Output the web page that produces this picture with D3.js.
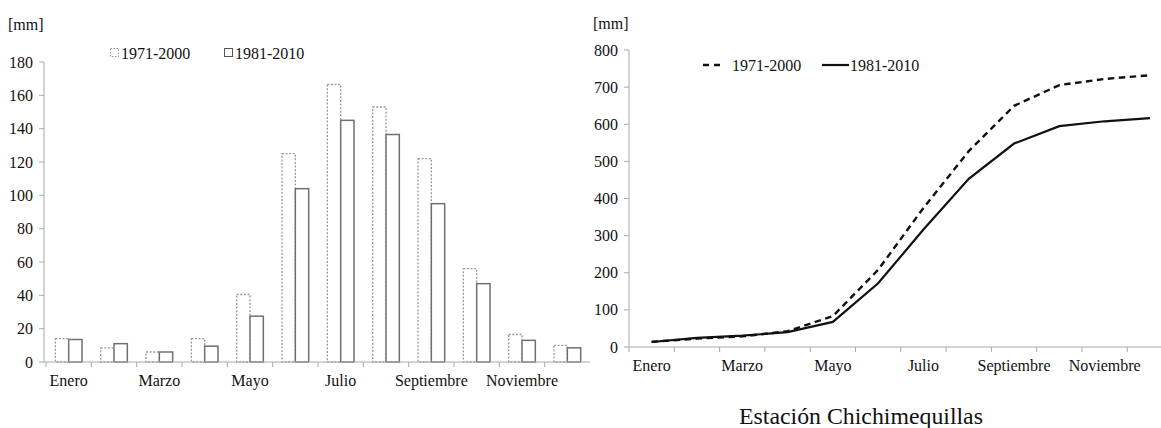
<!DOCTYPE html>
<html>
<head>
<meta charset="utf-8">
<script src="https://cdn.jsdelivr.net/npm/d3@7"></script>
<style>
  body { margin: 0; background: white; }
</style>
</head>
<body>
<div id="viz"></div>
<script>
let w = 1161;
let h = 428;

// data
let months = ["Enero", "Febrero", "Marzo", "Abril", "Mayo", "Junio", "Julio",
  "Agosto", "Septiembre", "Octubre", "Noviembre", "Diciembre"];
let series = ["1971-2000", "1981-2010"];
let monthly7100 = [14, 8.5, 6, 14, 40.5, 125, 166.5, 153, 122, 56, 16.5, 10];
let monthly8110 = [13.5, 11, 6, 9.5, 27.5, 104, 145, 136.5, 95, 47, 13, 8.5];
let cumul7100 = [14, 22.5, 28.5, 42.5, 83, 208, 374.5, 527.5, 649.5, 705.5, 722, 732];
let cumul8110 = [13.5, 24.5, 30.5, 40, 67.5, 171.5, 316.5, 453, 548, 595, 608, 616.5];
let barTicks = [0, 20, 40, 60, 80, 100, 120, 140, 160, 180];
let lineTicks = [0, 100, 200, 300, 400, 500, 600, 700, 800];
let shownMonths = ["Enero", "Marzo", "Mayo", "Julio", "Septiembre", "Noviembre"];

let fontFam = "'Liberation Serif'";

let viz = d3.select("#viz")
  .append("svg")
  .attr("width", w)
  .attr("height", h)
  .attr("viewBox", "0 0 " + w + " " + h);

let axisColor = "#aaa";

function addText(g, x, y, size, txt, anchor) {
  return g.append("text")
    .attr("x", x)
    .attr("y", y)
    .attr("font-family", fontFam)
    .attr("font-size", size)
    .attr("fill", "#111")
    .attr("text-anchor", anchor || "start")
    .text(txt);
}

function drawAxes(g, x, y, ticks, x0, x1) {
  let y0 = y.range()[0];
  // y axis
  g.append("line")
    .attr("x1", x0).attr("x2", x0)
    .attr("y1", y.range()[1]).attr("y2", y0)
    .attr("stroke", axisColor);
  g.selectAll(".ytick").data(ticks).enter()
    .append("line")
    .attr("x1", x0 - 5).attr("x2", x0)
    .attr("y1", d => y(d)).attr("y2", d => y(d))
    .attr("stroke", axisColor);
  g.selectAll(".ylab").data(ticks).enter()
    .append("text")
    .attr("x", x0 - 11)
    .attr("y", d => y(d) + 5.5)
    .attr("text-anchor", "end")
    .attr("font-family", fontFam)
    .attr("font-size", 16)
    .attr("fill", "#111")
    .text(d => d);
  // x axis
  g.append("line")
    .attr("x1", x0).attr("x2", x1)
    .attr("y1", y0).attr("y2", y0)
    .attr("stroke", axisColor);
  g.selectAll(".xtick").data(months).enter()
    .append("line")
    .attr("x1", d => x(d)).attr("x2", d => x(d))
    .attr("y1", y0).attr("y2", y0 + 5)
    .attr("stroke", axisColor);
  g.selectAll(".xlab").data(shownMonths).enter()
    .append("text")
    .attr("x", d => x(d) + x.bandwidth() / 2)
    .attr("y", y0 + 24)
    .attr("text-anchor", "middle")
    .attr("font-family", fontFam)
    .attr("font-size", 16)
    .attr("fill", "#111")
    .text(d => d);
}

// ---------------- left: monthly bars
let left = viz.append("g");
let xL = d3.scaleBand().domain(months).range([46, 590]);
let yL = d3.scaleLinear().domain([0, 180]).range([362, 62]);
let xSub = d3.scaleBand().domain(series).range([0, xL.bandwidth()]).paddingOuter(0.7);

addText(left, 8, 30, 16, "[mm]");

let barData = [];
months.forEach((m, i) => {
  barData.push({ m: m, s: series[0], v: monthly7100[i] });
  barData.push({ m: m, s: series[1], v: monthly8110[i] });
});

left.selectAll(".bar").data(barData).enter()
  .append("rect")
  .attr("class", "bar")
  .attr("x", d => xL(d.m) + xSub(d.s))
  .attr("y", d => yL(d.v))
  .attr("width", xSub.bandwidth())
  .attr("height", d => yL(0) - yL(d.v))
  .attr("fill", "white")
  .attr("stroke", d => d.s === series[0] ? "#999" : "#707070")
  .attr("stroke-width", d => d.s === series[0] ? 1.3 : 1.5)
  .attr("stroke-dasharray", d => d.s === series[0] ? "2,1.6" : null);

drawAxes(left, xL, yL, barTicks, 44, 590);

// legend left
let legL = left.append("g");
legL.append("rect").attr("x", 110.5).attr("y", 48.5).attr("width", 8).attr("height", 8)
  .attr("fill", "white").attr("stroke", "#999").attr("stroke-dasharray", "1.5,1.5");
addText(legL, 121, 58.5, 16, series[0]);
legL.append("rect").attr("x", 224.5).attr("y", 48.5).attr("width", 8).attr("height", 8)
  .attr("fill", "white").attr("stroke", "#555");
addText(legL, 235, 58.5, 16, series[1]);

// ---------------- right: cumulative lines
let right = viz.append("g");
let xR = d3.scaleBand().domain(months).range([629, 629 + 12 * 45.3]);
let yR = d3.scaleLinear().domain([0, 800]).range([347, 50]);

addText(right, 593, 29, 16, "[mm]");

drawAxes(right, xR, yR, lineTicks, 629, w);

let line = d3.line()
  .x((d, i) => xR(months[i]) + xR.bandwidth() / 2)
  .y(d => yR(d));

right.append("path")
  .datum(cumul7100)
  .attr("d", line)
  .attr("fill", "none")
  .attr("stroke", "#111")
  .attr("stroke-width", 2.4)
  .attr("stroke-dasharray", "6.5,4.5");

right.append("path")
  .datum(cumul8110)
  .attr("d", line)
  .attr("fill", "none")
  .attr("stroke", "#111")
  .attr("stroke-width", 2.2);

// legend right
let legR = right.append("g");
legR.append("line").attr("x1", 703).attr("x2", 724).attr("y1", 65).attr("y2", 65)
  .attr("stroke", "#111").attr("stroke-width", 2.4).attr("stroke-dasharray", "6,5");
addText(legR, 732, 70.5, 16, series[0]);
legR.append("line").attr("x1", 822).attr("x2", 849).attr("y1", 65).attr("y2", 65)
  .attr("stroke", "#111").attr("stroke-width", 2.2);
addText(legR, 850, 70.5, 16, series[1]);

// station title
addText(viz, 861, 424, 23.8, "Estación Chichimequillas", "middle");
</script>
</body>
</html>
